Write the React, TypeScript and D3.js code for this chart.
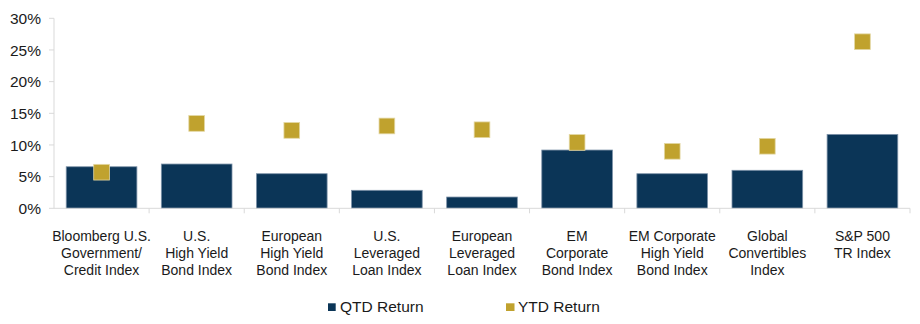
import React from "react";
import * as d3 from "d3";

const categories: string[] = [
  "Bloomberg U.S.\nGovernment/\nCredit Index",
  "U.S.\nHigh Yield\nBond Index",
  "European\nHigh Yield\nBond Index",
  "U.S.\nLeveraged\nLoan Index",
  "European\nLeveraged\nLoan Index",
  "EM\nCorporate\nBond Index",
  "EM Corporate\nHigh Yield\nBond Index",
  "Global\nConvertibles\nIndex",
  "S&P 500\nTR Index",
];
const qtdReturn: number[] = [6.56, 6.99, 5.46, 2.84, 1.78, 9.2, 5.46, 6.0, 11.67];
const ytdReturn: number[] = [5.7, 13.4, 12.3, 13.0, 12.4, 10.4, 9.0, 9.8, 26.3];
const yTicks: number[] = [0, 5, 10, 15, 20, 25, 30];
const seriesNames: string[] = ["QTD Return", "YTD Return"];

const W = 920;
const H = 324;
const NAVY = "#0b3557";
const GOLD = "#c0a22e";
const AXIS = "#d9d9d9";
const FONT = "Arial, 'Liberation Sans', sans-serif";

export default function App() {
  const x = d3
    .scaleBand<number>()
    .domain(categories.map((_, i) => i))
    .range([54, 910])
    .paddingInner(0.257)
    .paddingOuter(0.1285);
  const xStep = d3.scaleBand<number>().domain(categories.map((_, i) => i)).range([54, 910]);
  const y = d3.scaleLinear().domain([0, 30]).range([208.3, 18.3]);
  const m = 15.7;

  return (
    <svg width={W} height={H} style={{ position: "absolute", left: 0, top: 0, background: "#fff" }}>
      {/* y axis */}
      <line x1={54} x2={54} y1={y(30)} y2={y(0)} stroke={AXIS} strokeWidth={1} />
      {yTicks.map((t) => (
        <g key={t}>
          <line x1={49} x2={54} y1={y(t)} y2={y(t)} stroke={AXIS} strokeWidth={1} />
          <text x={41} y={y(t)} dy="0.36em" textAnchor="end" fontFamily={FONT} fontSize={15.5} fill="#1a1a1a">
            {d3.format("d")(t) + "%"}
          </text>
        </g>
      ))}
      {/* bars */}
      {qtdReturn.map((v, i) => (
        <rect
          key={"b" + i}
          x={x(i)!}
          y={y(v)}
          width={x.bandwidth()}
          height={y(0) - y(v)}
          fill={NAVY}
          stroke="#7d92a8"
          strokeWidth={0.8}
        />
      ))}
      {/* x axis */}
      <line x1={54} x2={910} y1={y(0)} y2={y(0)} stroke={AXIS} strokeWidth={1} />
      {categories.map((_, i) => (
        <line
          key={"t" + i}
          x1={xStep(i)! + xStep.step()}
          x2={xStep(i)! + xStep.step()}
          y1={y(0)}
          y2={y(0) + 5}
          stroke={AXIS}
          strokeWidth={1}
        />
      ))}
      {/* markers */}
      {ytdReturn.map((v, i) => (
        <rect
          key={"m" + i}
          x={x(i)! + x.bandwidth() / 2 - m / 2}
          y={y(v) - m / 2}
          width={m}
          height={m}
          fill={GOLD}
          stroke="#e3d7a3"
          strokeWidth={0.8}
        />
      ))}
      {/* category labels */}
      {categories.map((c, i) => (
        <text
          key={"l" + i}
          x={x(i)! + x.bandwidth() / 2}
          y={241.3}
          textAnchor="middle"
          fontFamily={FONT}
          fontSize={14}
          fill="#1a1a1a"
        >
          {c.split("\n").map((line, j) => (
            <tspan key={j} x={x(i)! + x.bandwidth() / 2} dy={j === 0 ? 0 : 17}>
              {line}
            </tspan>
          ))}
        </text>
      ))}
      {/* legend */}
      <rect x={328} y={303.3} width={7.7} height={7.7} fill={NAVY} />
      <text x={340} y={311.5} fontFamily={FONT} fontSize={15.5} fill="#1a1a1a">
        {seriesNames[0]}
      </text>
      <rect x={506} y={303.3} width={8.5} height={7.7} fill={GOLD} />
      <text x={518} y={311.5} fontFamily={FONT} fontSize={15.5} fill="#1a1a1a">
        {seriesNames[1]}
      </text>
    </svg>
  );
}
